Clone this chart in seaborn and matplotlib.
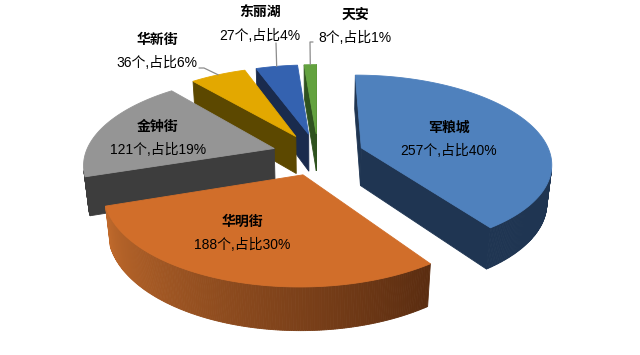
import numpy as np
import matplotlib
matplotlib.use("Agg")
import matplotlib.pyplot as plt
from matplotlib.colors import to_rgb
import seaborn as sns

# ---- data ----
names = ["军粮城", "华明街", "金钟街", "华新街", "东丽湖", "天安"]
counts = [257, 188, 121, 36, 27, 8]
shares = [40, 30, 19, 6, 4, 1]

# ---- style ----
top_colors = ["#4F81BD", "#D16E2A", "#959595", "#E3A800", "#3462B0", "#63A23F"]
side_colors = ["#1F3552", ("#5A2C10", "#C06A2C"), "#3D3D3D", "#5C4800", "#1A2B4D", "#2F521F"]
# label anchor (pixel coords) and leader-line start (None = label inside)
label_xy = [(449, 140), (242, 234), (158, 139), (157, 52), (260, 25), (355, 27)]
leader_start = [None, None, None, [(199, 68), (204, 68)], [(276, 43)], [(313, 42), (310, 42)]]

sns.set_theme(style="white")
plt.rcParams['font.family'] = ['Liberation Sans', 'Noto Sans CJK SC', 'DejaVu Sans']

W, H = 640, 355
fig = plt.figure(figsize=(W / 100, H / 100), dpi=100)
ax = fig.add_axes([0, 0, 1, 1])
ax.set_xlim(0, W)
ax.set_ylim(H, 0)
ax.axis("off")

# ---- 3D projection ----
sa = 0.49
ca = np.sqrt(1 - sa ** 2)
D = 5.5
F = 1018.0
cx, cy = 318.0, 192.0
h = 0.23
explode = 0.243
cam = np.array([0.0, -D * ca, D * sa])


def proj(X, Y, Z):
    d = D + Y * ca - Z * sa
    return cx + F * X / d, cy - F * (Y * sa + Z * ca) / d


def depth(X, Y, Z):
    return D + Y * ca - Z * sa


def mix(c1, c2, t):
    a, b = np.array(to_rgb(c1)), np.array(to_rgb(c2))
    return tuple(a + (b - a) * t)


total = float(sum(counts))
fr = np.array(counts) / total
bounds = np.concatenate([[0], np.cumsum(fr)]) * 2 * np.pi

slices = []
for i in range(len(counts)):
    t0, t1 = bounds[i], bounds[i + 1]
    tm = 0.5 * (t0 + t1)
    ox, oy = explode * np.sin(tm), explode * np.cos(tm)
    dep = depth(ox + 0.5 * np.sin(tm), oy + 0.5 * np.cos(tm), h / 2)
    slices.append((dep, i, t0, t1, ox, oy))

slices.sort(key=lambda s: -s[0])

for dep, i, t0, t1, ox, oy in slices:
    n = max(int((t1 - t0) / 0.01), 4)
    th = np.linspace(t0, t1, n)
    faces = []
    # radial faces
    for tt, nrm in ((t0, (-np.cos(t0), np.sin(t0))), (t1, (np.cos(t1), -np.sin(t1)))):
        rx, ry = ox + np.sin(tt), oy + np.cos(tt)
        mid = np.array([(ox + rx) / 2, (oy + ry) / 2, h / 2])
        v = cam - mid
        if nrm[0] * v[0] + nrm[1] * v[1] > 0:
            pts = [proj(ox, oy, h), proj(rx, ry, h), proj(rx, ry, 0), proj(ox, oy, 0)]
            sc = side_colors[i]
            col = sc if isinstance(sc, str) else mix(sc[0], sc[1], 0.5)
            faces.append((pts, col))
    # outer curved face
    for j in range(n - 1):
        a, b = th[j], th[j + 1]
        m = 0.5 * (a + b)
        px, py = ox + np.sin(m), oy + np.cos(m)
        v = cam - np.array([px, py, h / 2])
        if np.sin(m) * v[0] + np.cos(m) * v[1] > 0:
            pts = [proj(ox + np.sin(a), oy + np.cos(a), h), proj(ox + np.sin(b), oy + np.cos(b), h),
                   proj(ox + np.sin(b), oy + np.cos(b), 0), proj(ox + np.sin(a), oy + np.cos(a), 0)]
            sc = side_colors[i]
            if isinstance(sc, str):
                col = sc
            else:
                col = mix(sc[0], sc[1], (m - t0) / (t1 - t0))
            faces.append((pts, col))
    for pts, col in faces:
        xs, ys = zip(*pts)
        ax.fill(xs, ys, color=col, lw=0.6, ec=col, zorder=2)
    # top face
    top = [proj(ox, oy, h)] + [proj(ox + np.sin(t), oy + np.cos(t), h) for t in th]
    xs, ys = zip(*top)
    ax.fill(xs, ys, color=top_colors[i], lw=0.6, ec=top_colors[i], zorder=2)

# ---- labels ----
for i, (lx, ly) in enumerate(label_xy):
    ax.text(lx, ly - 12, names[i], ha="center", va="center", fontsize=10,
            fontweight="bold", color="black", zorder=5)
    ax.text(lx, ly + 11, f"{counts[i]}个,占比{shares[i]}%", ha="center", va="center",
            fontsize=10, color="black", zorder=5)
    if leader_start[i] is not None:
        t0, t1 = bounds[i], bounds[i + 1]
        tm = 0.5 * (t0 + t1)
        ox, oy = explode * np.sin(tm), explode * np.cos(tm)
        ex, ey = proj(ox + np.sin(tm), oy + np.cos(tm), h)
        pts = leader_start[i] + [(ex, ey)]
        xs, ys = zip(*pts)
        ax.plot(xs, ys, color="#8C8C8C", lw=0.9, zorder=4)

fig.savefig("out.png", dpi=100)
